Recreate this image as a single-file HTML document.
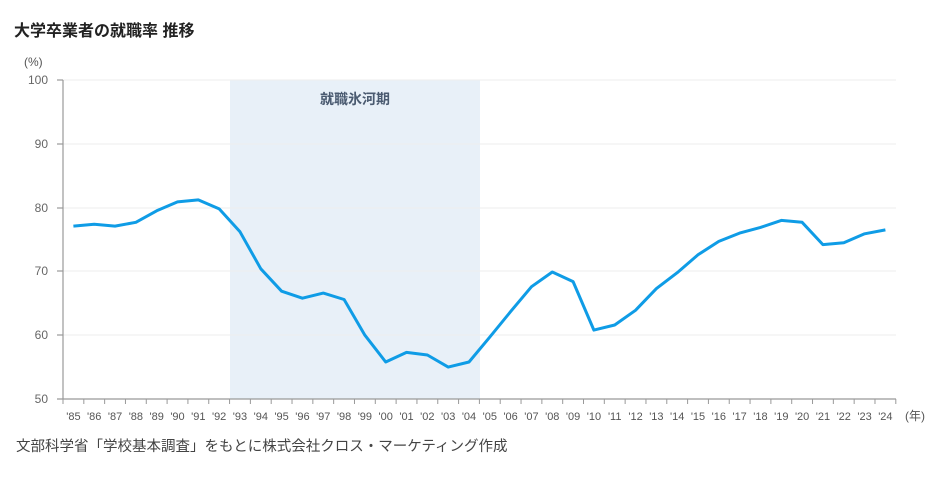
<!DOCTYPE html>
<html><head><meta charset="utf-8"><style>
body{margin:0;background:#fff;width:934px;height:474px;overflow:hidden;font-family:"Liberation Sans","Noto Sans CJK JP",sans-serif;}
</style></head><body>
<svg width="934" height="474" xmlns="http://www.w3.org/2000/svg" font-family="Liberation Sans, Noto Sans CJK JP, sans-serif">
<text x="14" y="36" font-size="16" font-weight="bold" fill="#222">大学卒業者の就職率 推移</text>
<text x="24" y="66" font-size="12" fill="#555">(%)</text>
<rect x="230" y="80" width="250" height="319" fill="#e8f0f8"/>
<text x="355" y="104" font-size="14" font-weight="bold" fill="#4a5a70" text-anchor="middle">就職氷河期</text>
<g stroke="#eee" stroke-width="1">
<line x1="63" x2="896" y1="80" y2="80"/><line x1="63" x2="896" y1="144" y2="144"/><line x1="63" x2="896" y1="208" y2="208"/><line x1="63" x2="896" y1="271" y2="271"/><line x1="63" x2="896" y1="335" y2="335"/>
</g>
<g font-size="12" fill="#666" text-anchor="end">
<text x="48" y="84">100</text><text x="48" y="148">90</text><text x="48" y="212">80</text><text x="48" y="275">70</text><text x="48" y="339">60</text><text x="48" y="403">50</text>
</g>
<g stroke="#999" stroke-width="1.2">
<line x1="63" y1="80" x2="63" y2="399"/><line x1="57" y1="399" x2="896" y2="399"/>
<line x1="57" y1="80" x2="63" y2="80"/><line x1="57" y1="144" x2="63" y2="144"/><line x1="57" y1="208" x2="63" y2="208"/><line x1="57" y1="271" x2="63" y2="271"/><line x1="57" y1="335" x2="63" y2="335"/>
</g>
<g id="ticks" stroke="#999" stroke-width="1"></g>
<g id="labels" font-size="11" fill="#555" text-anchor="middle"></g>
<text x="905" y="420" font-size="12" fill="#555">(年)</text>
<polyline id="line" fill="none" stroke="#0f9ce6" stroke-width="3" stroke-linejoin="round" points=""/>
<text x="16" y="451" font-size="14.5" fill="#444">文部科学省「学校基本調査」をもとに株式会社クロス・マーケティング作成</text>
</svg>
<script>
var d=[77.1,77.4,77.1,77.7,79.5,80.9,81.2,79.8,76.2,70.4,66.9,65.8,66.6,65.6,60.0,55.8,57.3,56.9,55.0,55.8,59.7,63.7,67.6,69.9,68.4,60.8,61.6,63.9,67.3,69.8,72.6,74.7,76.0,76.9,78.0,77.7,74.2,74.5,75.9,76.5];
var s=20.82,x0=63,pts=[],t='',l='';
for(var i=0;i<=40;i++){var x=x0+s*i;t+='<line x1="'+x+'" x2="'+x+'" y1="399" y2="404"/>';}
for(var i=0;i<40;i++){var x=x0+s*(i+0.5);var y=399-(d[i]-50)*6.38;pts.push(x.toFixed(1)+','+y.toFixed(1));
var yr=(85+i)%100;l+='<text x="'+x+'" y="420">\''+(yr<10?'0':'')+yr+'</text>';}
document.getElementById('ticks').innerHTML=t;document.getElementById('labels').innerHTML=l;
document.getElementById('line').setAttribute('points',pts.join(' '));
</script>
</body></html>
